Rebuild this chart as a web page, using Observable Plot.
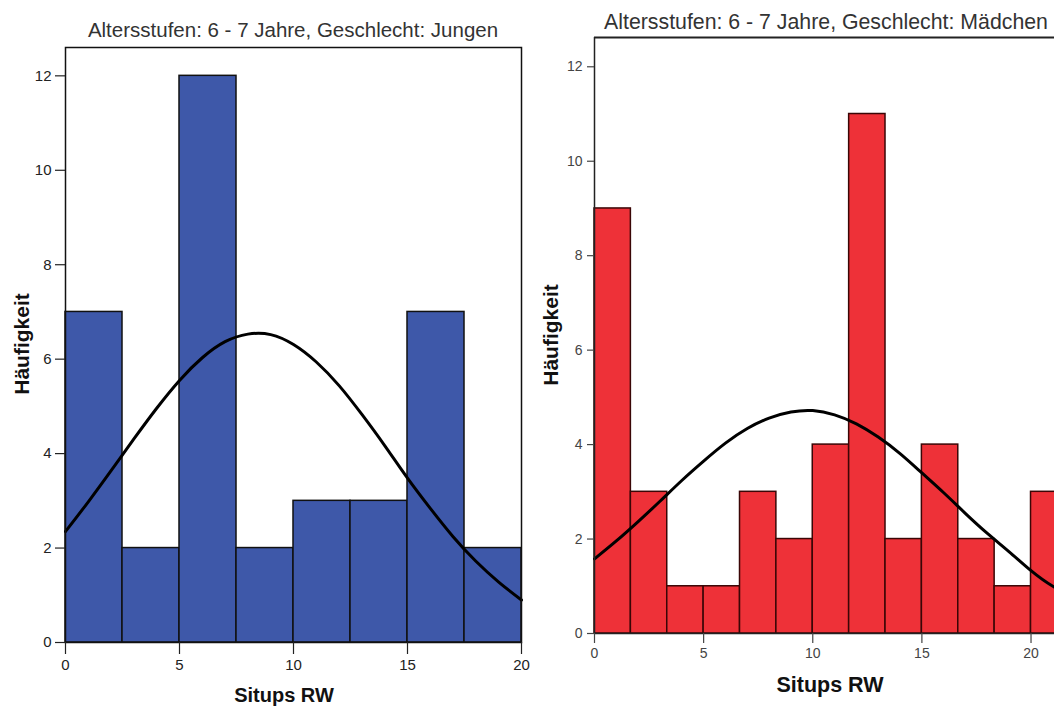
<!DOCTYPE html>
<html><head><meta charset="utf-8">
<script src="https://cdn.jsdelivr.net/npm/d3@7"></script>
<script src="https://cdn.jsdelivr.net/npm/@observablehq/plot@0.6"></script>
<style>
body{margin:0;background:#fff;font-family:"Liberation Sans",Arial,sans-serif;}
#wrap{position:relative;width:1054px;height:706px;overflow:hidden;background:#fff;}
.panel{position:absolute;top:0;}
.panel svg{max-width:none !important;}
.title{position:absolute;color:#333;white-space:nowrap;transform:translateX(-50%);line-height:1;}
.xlab{position:absolute;font-weight:bold;color:#111;white-space:nowrap;transform:translateX(-50%);line-height:1;}
.ylab{position:absolute;font-weight:bold;color:#111;white-space:nowrap;transform:translate(-50%,-50%) rotate(-90deg);line-height:1;}
</style></head>
<body>
<div id="wrap">
  <div class="panel" id="left" style="left:0;width:540px"></div>
  <div class="panel" id="right" style="left:540px;width:566px"></div>
  <div class="title" id="t1" style="left:293px;top:20px;font-size:20.5px"></div>
  <div class="title" id="t2" style="left:826px;top:12px;font-size:21.3px"></div>
  <div class="xlab" id="x1" style="left:284px;top:685px;font-size:20px"></div>
  <div class="xlab" id="x2" style="left:830px;top:675px;font-size:21.5px"></div>
  <div class="ylab" id="y1" style="left:21px;top:344px;font-size:21px"></div>
  <div class="ylab" id="y2" style="left:550px;top:335px;font-size:21px"></div>
</div>
<script>
// ---- Texts ----
const titleBoys = "Altersstufen: 6 - 7 Jahre, Geschlecht: Jungen";
const titleGirls = "Altersstufen: 6 - 7 Jahre, Geschlecht: Mädchen";
const xLabel = "Situps RW";
const yLabel = "Häufigkeit";

// ---- Tick values ----
const yTicks = [0, 2, 4, 6, 8, 10, 12];
const xTicks = [0, 5, 10, 15, 20];

// ---- Jungen (boys) histogram ----
const boysBinStart = [0, 2.5, 5, 7.5, 10, 12.5, 15, 17.5];
const boysBinEnd   = [2.5, 5, 7.5, 10, 12.5, 15, 17.5, 20];
const boysCounts   = [7, 2, 12, 2, 3, 3, 7, 2];
// normal curve
const boysCurveX = [0,1,2,3,4,5,6,7,8,9,10,11,12,13,14,15,16,17,18,19,20];
const boysCurveY = [2.35,2.98,3.64,4.31,4.96,5.55,6.03,6.37,6.53,6.52,6.31,5.94,5.44,4.83,4.17,3.48,2.84,2.24,1.72,1.28,0.9];

// ---- Mädchen (girls) histogram ----
const girlsBinStart = [0, 1.667, 3.333, 5, 6.667, 8.333, 10, 11.667, 13.333, 15, 16.667, 18.333, 20];
const girlsBinEnd   = [1.667, 3.333, 5, 6.667, 8.333, 10, 11.667, 13.333, 15, 16.667, 18.333, 20, 21.667];
const girlsCounts   = [9, 3, 1, 1, 3, 2, 4, 11, 2, 4, 2, 1, 3];
const girlsCurveX = [0,1,2,3,4,5,6,7,8,9,10,11,12,13,14,15,16,17,18,19,20,21,22];
const girlsCurveY = [1.58,1.96,2.37,2.80,3.24,3.65,4.03,4.34,4.56,4.69,4.72,4.63,4.44,4.16,3.81,3.40,2.98,2.54,2.12,1.73,1.33,1.00,0.78];

const boys = boysCounts.map((c, i) => ({x1: boysBinStart[i], x2: boysBinEnd[i], y: c}));
const boysCurve = boysCurveX.map((x, i) => ({x, y: boysCurveY[i]}));
const girls = girlsCounts.map((c, i) => ({x1: girlsBinStart[i], x2: girlsBinEnd[i], y: c}));
const girlsCurve = girlsCurveX.map((x, i) => ({x, y: girlsCurveY[i]}));

const font = "'Liberation Sans', Arial, sans-serif";

const leftPlot = Plot.plot({
  width: 540, height: 706,
  marginLeft: 65, marginRight: 19, marginTop: 47, marginBottom: 64,
  style: {fontFamily: font, background: "transparent", color: "#222", overflow: "visible", maxWidth: "none"},
  x: {domain: [0, 20]},
  y: {domain: [0, 12.6]},
  marks: [
    Plot.rectY(boys, {x1: "x1", x2: "x2", y: "y", fill: "#3e58a9", stroke: "#111", strokeWidth: 1.5, inset: 0}),
    Plot.line(boysCurve, {x: "x", y: "y", stroke: "#000", strokeWidth: 3, curve: "natural"}),
    Plot.frame({stroke: "#111", strokeWidth: 1.5}),
    Plot.axisY({ticks: yTicks, tickSize: 10, tickPadding: 4, fontSize: 15, tickFormat: "d", label: null, strokeWidth: 1.2}),
    Plot.axisX({ticks: xTicks, tickSize: 12, tickPadding: 5, fontSize: 15, tickFormat: "d", label: null, strokeWidth: 1.2})
  ]
});
document.getElementById("left").appendChild(leftPlot);

const rightPlot = Plot.plot({
  width: 566, height: 706,
  marginLeft: 54, marginRight: 10, marginTop: 37, marginBottom: 73,
  style: {fontFamily: font, background: "transparent", color: "#444", overflow: "visible", maxWidth: "none"},
  x: {domain: [0, 23]},
  y: {domain: [0, 12.62]},
  marks: [
    Plot.rectY(girls, {x1: "x1", x2: "x2", y: "y", fill: "#ee3138", stroke: "#3a0606", strokeWidth: 1.5, inset: 0}),
    Plot.line(girlsCurve, {x: "x", y: "y", stroke: "#000", strokeWidth: 3, curve: "natural"}),
    Plot.ruleY([0], {stroke: "#222", strokeWidth: 1.5}),
    Plot.ruleY([12.62], {stroke: "#222", strokeWidth: 2}),
    Plot.ruleX([0], {stroke: "#222", strokeWidth: 1.5}),
    Plot.axisY({ticks: yTicks, tickSize: 7, tickPadding: 5, fontSize: 14, tickFormat: "d", label: null, strokeWidth: 1.2}),
    Plot.axisX({ticks: xTicks, tickSize: 10, tickPadding: 5, fontSize: 14, tickFormat: "d", label: null, strokeWidth: 1.2})
  ]
});
document.getElementById("right").appendChild(rightPlot);

document.getElementById("t1").textContent = titleBoys;
document.getElementById("t2").textContent = titleGirls;
document.getElementById("x1").textContent = xLabel;
document.getElementById("x2").textContent = xLabel;
document.getElementById("y1").textContent = yLabel;
document.getElementById("y2").textContent = yLabel;
</script>
</body></html>
